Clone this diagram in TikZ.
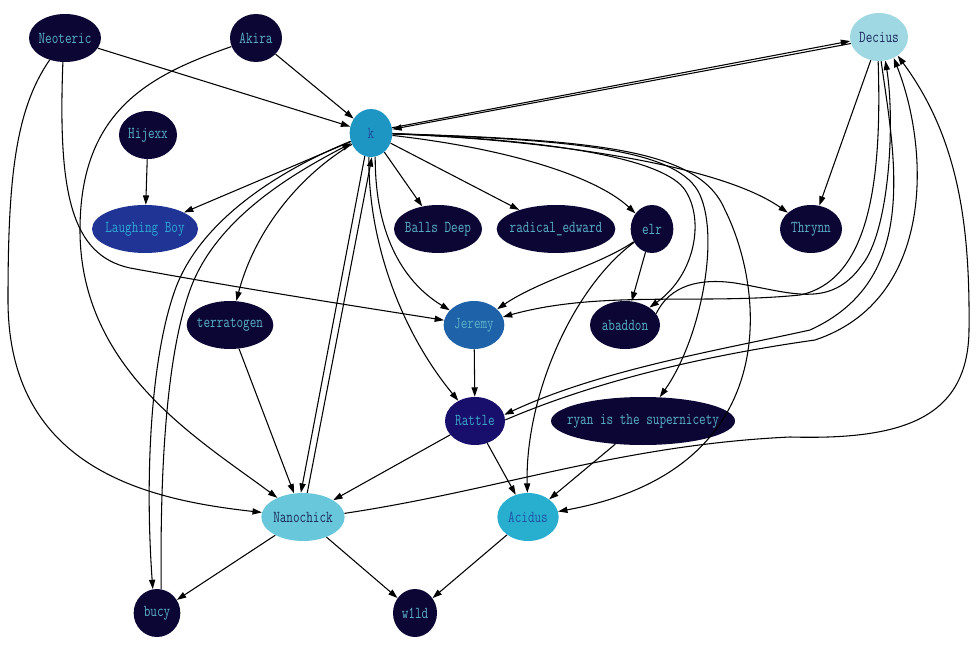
\documentclass[tikz,border=0pt]{standalone}
\usepackage{fontspec}
\newfontfamily\usrfont[FakeStretch=0.77]{Latin Modern Mono}
\usetikzlibrary{arrows.meta,shapes.geometric}

\definecolor{dk}{HTML}{0B0633}
\definecolor{dktx}{HTML}{5AAFC8}
\definecolor{kfill}{HTML}{1E96C4}
\definecolor{ktx}{HTML}{1D4B9A}
\definecolor{lbfill}{HTML}{1F3494}
\definecolor{lbtx}{HTML}{2EA8D6}
\definecolor{decfill}{HTML}{9FD8E3}
\definecolor{dectx}{HTML}{1B2A5C}
\definecolor{jerfill}{HTML}{1E62AA}
\definecolor{jertx}{HTML}{5CB2C6}
\definecolor{ratfill}{HTML}{170F6B}
\definecolor{rattx}{HTML}{3AA6CC}
\definecolor{nanfill}{HTML}{68C7DA}
\definecolor{nantx}{HTML}{1B2A5A}
\definecolor{acifill}{HTML}{28AECF}
\definecolor{acitx}{HTML}{1D55A3}

\begin{document}
\begin{tikzpicture}[x=0.75pt, y=0.75pt,
    user/.style={ellipse, inner sep=0pt, minimum height=36pt, fill=dk, text=dktx,
      font=\usrfont\fontsize{12.5}{14}\selectfont,
      execute at begin node={\hbox to 0pt\bgroup\hss},
      execute at end node={\hss\egroup}},
    conn/.style={draw, line width=0.8pt, -{Triangle[length=7pt,width=4.6pt]}}]

  \useasboundingbox (0,0) rectangle (980,-648);

  %% nodes
  \node [user, minimum width=54pt] (neoteric) at (65,-38) {Neoteric};
  \node [user, minimum width=39pt] (akira) at (256,-38) {Akira};
  \node [user, minimum width=43.5pt, fill=decfill, text=dectx] (decius) at (879,-37) {Decius};

  \node [user, minimum width=32pt, fill=kfill, text=ktx] (k) at (371,-133) {k};
  \node [user, minimum width=43.5pt] (hijexx) at (148,-135) {Hijexx};

  \node [user, minimum width=79.5pt, fill=lbfill, text=lbtx] (laughing) at (145,-229) {Laughing Boy};
  \node [user, minimum width=66pt] (balls) at (438,-229) {Balls Deep};
  \node [user, minimum width=89pt] (radical) at (556,-229) {radical\_edward};
  \node [user, minimum width=32pt] (elr) at (652,-229) {elr};
  \node [user, minimum width=46.5pt] (thrynn) at (811,-229) {Thrynn};

  \node [user, minimum width=65pt] (terratogen) at (230,-325) {terratogen};
  \node [user, minimum width=45.5pt, fill=jerfill, text=jertx] (jeremy) at (474,-325) {Jeremy};
  \node [user, minimum width=52.5pt] (abaddon) at (625,-325) {abaddon};

  \node [user, minimum width=45pt, fill=ratfill, text=rattx] (rattle) at (475,-421) {Rattle};
  \node [user, minimum width=138pt] (ryan) at (643,-421) {ryan is the supernicety};

  \node [user, minimum width=62.5pt, fill=nanfill, text=nantx] (nanochick) at (303,-517) {Nanochick};
  \node [user, minimum width=46pt, fill=acifill, text=acitx] (acidus) at (528,-517) {Acidus};

  \node [user, minimum width=35pt] (bucy) at (157,-613) {bucy};
  \node [user, minimum width=33pt] (wild) at (415,-613) {w1ld};

  %% straight edges
  \draw [conn] (neoteric) -- (k);
  \draw [conn] (akira) -- (k);
  \draw [conn] (hijexx) -- (laughing);
  \draw [conn] (k) -- (laughing);
  \draw [conn] (k) -- (balls);
  \draw [conn] (k) -- (radical);
  \draw [conn] (k.14) -- (decius.188);
  \draw [conn] (decius.193) -- (k.10);
  \draw [conn] (decius) -- (thrynn);
  \draw [conn] (k.-105) -- (nanochick.95);
  \draw [conn] (nanochick.80) -- (k.-88);
  \draw [conn] (elr) -- (abaddon);
  \draw [conn] (terratogen) -- (nanochick);
  \draw [conn] (jeremy) -- (rattle);
  \draw [conn] (rattle) -- (nanochick);
  \draw [conn] (rattle) -- (acidus);
  \draw [conn] (ryan) -- (acidus);
  \draw [conn] (nanochick) -- (bucy);
  \draw [conn] (nanochick) -- (wild);
  \draw [conn] (acidus) -- (wild);

  %% curved edges out of k
  \draw [conn] (k) .. controls (520,-150) and (600,-180) .. (elr);
  \draw [conn] (k) .. controls (550,-140) and (720,-165) .. (thrynn);
  \draw [conn] (k) .. controls (300,-175) and (255,-230) .. (terratogen);
  \draw [conn] (k) .. controls (280,-170) and (200,-220) .. (175,-290)
    .. controls (150,-360) and (145,-480) .. (bucy.100);
  \draw [conn] (bucy.80) .. controls (160,-480) and (165,-360) .. (190,-290)
    .. controls (215,-220) and (290,-175) .. (k);
  \draw [conn] (k.-80) .. controls (375,-230) and (400,-280) .. (jeremy);
  \draw [conn] (k.-95) .. controls (368,-240) and (400,-330) .. (rattle);
  \draw [conn] (k) .. controls (560,-140) and (665,-160) .. (685,-190)
    .. controls (705,-220) and (695,-275) .. (abaddon);
  \draw [conn] (k) .. controls (580,-140) and (680,-150) .. (700,-195)
    .. controls (720,-240) and (700,-340) .. (ryan);
  \draw [conn] (k) .. controls (600,-140) and (700,-150) .. (725,-210)
    .. controls (765,-290) and (785,-470) .. (acidus);

  %% Decius
  \draw [conn] (decius.-92) .. controls (882,-180) and (870,-280) .. (800,-295)
    .. controls (700,-305) and (600,-290) .. (jeremy);
  \draw [conn] (abaddon.20) .. controls (670,-285) and (700,-278) .. (735,-283)
    .. controls (790,-292) and (830,-310) .. (862,-265)
    .. controls (890,-230) and (895,-120) .. (decius.-75);
  \draw [conn] (decius.-85) .. controls (895,-160) and (920,-280) .. (810,-330)
    .. controls (720,-350) and (600,-370) .. (rattle.12);
  \draw [conn] (rattle.2) .. controls (610,-375) and (730,-352) .. (815,-340)
    .. controls (935,-300) and (930,-150) .. (decius.-55);
  \draw [conn] (nanochick.5) .. controls (500,-490) and (620,-445) .. (790,-437)
    .. controls (900,-440) and (968,-420) .. (969,-330)
    .. controls (970,-230) and (960,-140) .. (decius.-45);

  %% left side
  \draw [conn] (neoteric.-95) .. controls (58,-190) and (70,-255) .. (130,-268)
    .. controls (250,-290) and (380,-310) .. (jeremy);
  \draw [conn] (neoteric.-125) .. controls (15,-110) and (8,-180) .. (8,-300)
    .. controls (8,-470) and (150,-500) .. (nanochick);
  \draw [conn] (akira) .. controls (150,-75) and (80,-110) .. (80,-230)
    .. controls (80,-370) and (200,-440) .. (nanochick);

  %% elr
  \draw [conn] (elr) .. controls (600,-265) and (540,-280) .. (jeremy);
  \draw [conn] (elr) .. controls (570,-290) and (525,-400) .. (acidus);

\end{tikzpicture}
\end{document}
